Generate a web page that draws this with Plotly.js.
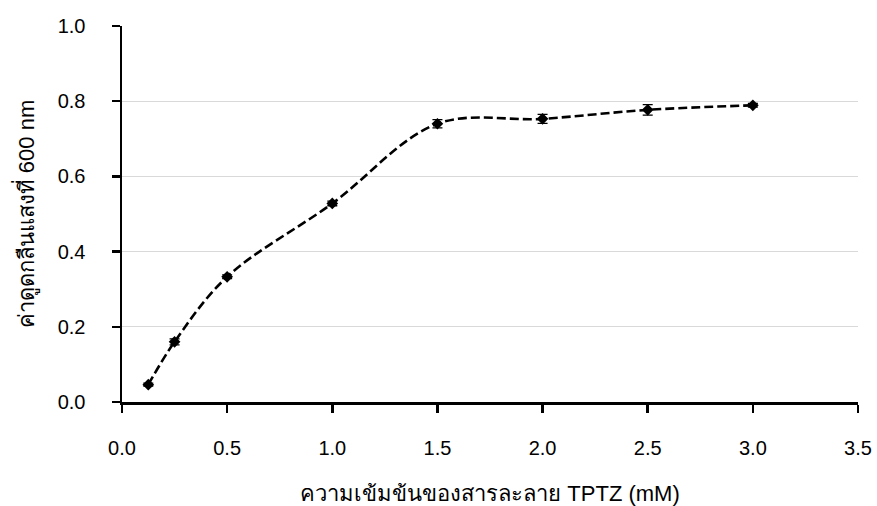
<!DOCTYPE html>
<html><head><meta charset="utf-8">
<script src="https://cdn.plot.ly/plotly-3.0.1.min.js"></script>
<style>body{margin:0;background:#fff}#c{width:877px;height:506px}</style>
</head><body><div id="c"></div>
<script>
const concentration = [0.125, 0.25, 0.5, 1.0, 1.5, 2.0, 2.5, 3.0];
const absorbance = [0.046, 0.160, 0.333, 0.528, 0.740, 0.753, 0.777, 0.789];
const errorValues = [0.004, 0.008, 0.005, 0.006, 0.011, 0.012, 0.014, 0.005];
const xTicks = [0, 0.5, 1.0, 1.5, 2.0, 2.5, 3.0, 3.5];
const yTicks = [0, 0.2, 0.4, 0.6, 0.8, 1.0];

const fontFam = 'Liberation Sans, Arial, sans-serif';
Plotly.newPlot('c', [{
  x: concentration, y: absorbance, type: 'scatter', mode: 'lines+markers',
  line: {color: '#000', width: 2.6, dash: '9px,4px', shape: 'spline', smoothing: 1},
  marker: {symbol: 'diamond', size: 9, color: '#000'},
  error_y: {type: 'data', array: errorValues, visible: true, color: '#000', thickness: 1.3, width: 5},
  showlegend: false
}], {
  width: 877, height: 506,
  margin: {l: 122, r: 19, t: 26, b: 104},
  paper_bgcolor: '#fff', plot_bgcolor: '#fff',
  font: {family: fontFam, size: 20, color: '#000'},
  xaxis: {
    range: [0, 3.5], tickvals: xTicks, ticktext: xTicks.map(v => v.toFixed(1)),
    showgrid: false, zeroline: false, showline: true, linecolor: '#000', linewidth: 2.5,
    ticks: 'outside', ticklen: 8, tickwidth: 2.5, tickcolor: '#000',
    ticklabelstandoff: 18,
    tickfont: {size: 20},
    automargin: false,
    title: {text: 'ความเข้มข้นของสารละลาย TPTZ (mM)', font: {size: 22}, standoff: 33}
  },
  yaxis: {
    range: [0, 1.0], tickvals: yTicks, ticktext: yTicks.map(v => v.toFixed(1)),
    showgrid: true, gridcolor: '#d9d9d9', gridwidth: 1.3, zeroline: false,
    showline: true, linecolor: '#000', linewidth: 2.5,
    ticks: 'outside', ticklen: 8, tickwidth: 2.5, tickcolor: '#000',
    ticklabelstandoff: 22,
    tickfont: {size: 20},
    automargin: false,
    title: {text: 'ค่าดูดกลืนแสงที่ 600 nm', font: {size: 22}, standoff: 17}
  }
}, {displayModeBar: false, staticPlot: true});
</script></body></html>
